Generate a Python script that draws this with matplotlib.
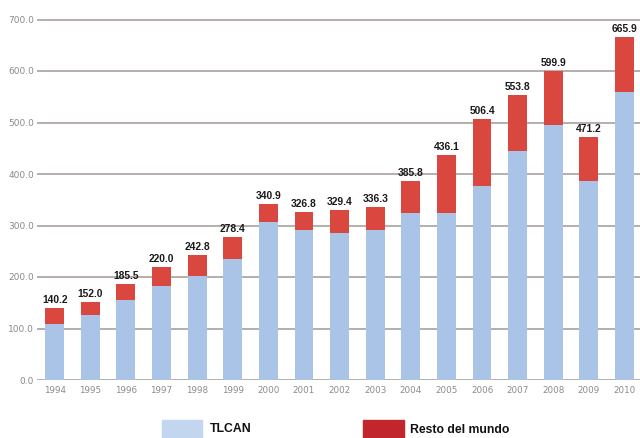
import matplotlib
matplotlib.use("Agg")
import matplotlib.pyplot as plt
from matplotlib.patches import Rectangle
import numpy as np

years = ["1994", "1995", "1996", "1997", "1998", "1999", "2000", "2001", "2002",
         "2003", "2004", "2005", "2006", "2007", "2008", "2009", "2010"]
totals = [140.2, 152.0, 185.5, 220.0, 242.8, 278.4, 340.9, 326.8, 329.4,
          336.3, 385.8, 436.1, 506.4, 553.8, 599.9, 471.2, 665.9]
tlcan = [108.5, 126.0, 155.0, 183.0, 202.0, 234.0, 307.0, 291.0, 285.5,
         291.0, 324.0, 324.0, 376.0, 444.0, 496.0, 386.0, 559.0]
resto = [t - a for t, a in zip(totals, tlcan)]
yticks = [0, 100, 200, 300, 400, 500, 600, 700]

blue = "#a9c4e7"
red = "#d9473f"
grid_c = "#a9a19e"
label_c = "#8a8a8a"

fig = plt.figure(figsize=(6.4, 4.38), dpi=100)
ppu = (380 - 19.5) / 700
ytop = 705
ax = fig.add_axes([37 / 640, 1 - 380 / 438, 1 - 37 / 640, ytop * ppu / 438])

x = np.arange(len(years))
w = 0.53
ax.bar(x, tlcan, width=w, color=blue, zorder=3)
ax.bar(x, resto, width=w, bottom=tlcan, color=red, zorder=3)

for xi, t in zip(x, totals):
    ax.text(xi, t + 6, f"{t:.1f}", ha="center", va="bottom", fontsize=7.4,
            fontweight="bold", family=["Liberation Sans", "DejaVu Sans"],
            color="#1a1a1a", clip_on=False)

ax.set_ylim(0, ytop)
ax.set_xlim(-0.497, 16.435)
ax.set_yticks(yticks)
ax.set_yticklabels([f"{v:.1f}" for v in yticks], fontsize=6.5, color=label_c)
ax.set_xticks(x)
ax.set_xticklabels(years, fontsize=6.3, color=label_c)
ax.tick_params(axis="both", length=0)
ax.tick_params(axis="y", pad=2)
ax.tick_params(axis="x", pad=4)
for s in ax.spines.values():
    s.set_visible(False)
ax.yaxis.grid(True, color=grid_c, linewidth=1.2, zorder=0)
ax.set_axisbelow(True)

# Legend
fig.add_artist(Rectangle((162 / 640, 0), 40 / 640, 18 / 438,
                         transform=fig.transFigure, color="#c2d6ef"))
fig.text(210 / 640, 9 / 438, "TLCAN", fontsize=8.8, fontweight="bold",
         family=["Liberation Sans", "DejaVu Sans"],
         va="center", ha="left", color="#111111")
fig.add_artist(Rectangle((363 / 640, 0), 41 / 640, 18 / 438,
                         transform=fig.transFigure, color="#c0262c"))
fig.text(410 / 640, 8 / 438, "Resto del mundo", fontsize=8.8, fontweight="bold",
         family=["Liberation Sans", "DejaVu Sans"],
         va="center", ha="left", color="#111111")

fig.savefig("out.png", dpi=100)
